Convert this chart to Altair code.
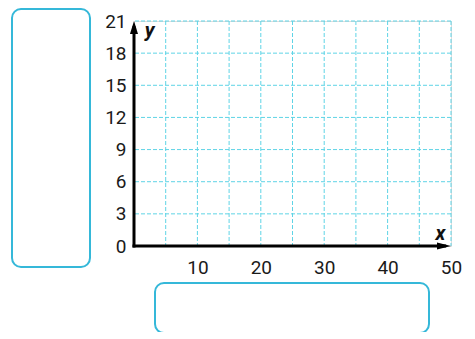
import altair as alt
import pandas as pd

# data / axis values
x_domain = [0, 50]
y_domain = [0, 21]
x_grid = [5, 10, 15, 20, 25, 30, 35, 40, 45, 50]
y_grid = [3, 6, 9, 12, 15, 18, 21]
x_ticks = [10, 20, 30, 40, 50]
y_ticks = [0, 3, 6, 9, 12, 15, 18, 21]

W, H = 317, 225
GRID = "#5fd4e6"
BOX = "#35b8d9"
FONT = "Roboto"

xs = alt.Scale(domain=x_domain, nice=False, zero=False)
ys = alt.Scale(domain=y_domain, nice=False, zero=False)

x_axis = alt.Axis(values=x_ticks, domain=False, ticks=False, tickSize=0, grid=False,
                  labelOverlap=False, labelFlush=False,
                  labelFont=FONT, labelFontSize=19, labelColor="#1a1a1a", labelPadding=12,
                  title="x", titleFont=FONT, titleFontSize=20, titleFontStyle="italic",
                  titleFontWeight="bold", titleColor="#111", titleAngle=0,
                  titleX=306, titleY=-13, titleAlign="center", titleBaseline="middle")
y_axis = alt.Axis(values=y_ticks, domain=False, ticks=False, tickSize=0, grid=False,
                  labelOverlap=False, labelFlush=False,
                  labelFont=FONT, labelFontSize=19, labelColor="#1a1a1a", labelPadding=8,
                  labelBaseline="middle",
                  title="y", titleFont=FONT, titleFontSize=20, titleFontStyle="italic",
                  titleFontWeight="bold", titleColor="#111", titleAngle=0,
                  titleX=15, titleY=9, titleAlign="center", titleBaseline="middle")


def X(v):
    return alt.XDatum(v, scale=xs, axis=x_axis)


def Y(v):
    return alt.YDatum(v, scale=ys, axis=y_axis)


vgrid = alt.Chart(pd.DataFrame({"v": x_grid})).mark_rule(
    color=GRID, strokeWidth=1, strokeDash=[4, 2]
).encode(x=alt.X("v:Q", scale=xs, axis=x_axis))

hgrid = alt.Chart(pd.DataFrame({"h": y_grid})).mark_rule(
    color=GRID, strokeWidth=1, strokeDash=[4, 2]
).encode(y=alt.Y("h:Q", scale=ys, axis=y_axis))

axis_df = pd.DataFrame({"d": [0]})
x_line = alt.Chart(axis_df).mark_rule(color="black", strokeWidth=3, strokeCap="square").encode(
    x=X(x_domain[0]), x2=alt.X2Datum(x_domain[1] - 1), y=Y(y_domain[0]))
y_line = alt.Chart(axis_df).mark_rule(color="black", strokeWidth=3, strokeCap="square").encode(
    y=Y(y_domain[0]), y2=alt.Y2Datum(y_domain[1] - 0.6), x=X(x_domain[0]))

y_arrow = alt.Chart(axis_df).mark_point(
    shape="M0,-1L0.62,1L-0.62,1Z", filled=True, color="black", opacity=1, size=169, yOffset=6.5
).encode(x=X(x_domain[0]), y=Y(y_domain[1]))
x_arrow = alt.Chart(axis_df).mark_point(
    shape="M1,0L-1,0.5L-1,-0.5Z", filled=True, color="black", opacity=1, size=196, xOffset=-7
).encode(x=X(x_domain[1]), y=Y(y_domain[0]))

left_box = alt.Chart(axis_df).mark_rect(
    fill=None, stroke=BOX, strokeWidth=2, cornerRadius=9
).encode(x=alt.value(-122), x2=alt.value(-44), y=alt.value(-12), y2=alt.value(246))
bottom_box = alt.Chart(axis_df).mark_rect(
    fill=None, stroke=BOX, strokeWidth=2, cornerRadius=9
).encode(x=alt.value(21), x2=alt.value(295), y=alt.value(262), y2=alt.value(312))

chart = alt.layer(vgrid, hgrid, x_line, y_line, y_arrow, x_arrow, left_box, bottom_box).properties(
    width=W, height=H,
    autosize=alt.AutoSizeParams(type="none"),
    padding={"left": 126, "top": 13, "right": 14, "bottom": 86},
).configure_view(stroke=None).configure(background="white")

chart.save("out.html", embed_options={"renderer": "svg", "actions": False})
